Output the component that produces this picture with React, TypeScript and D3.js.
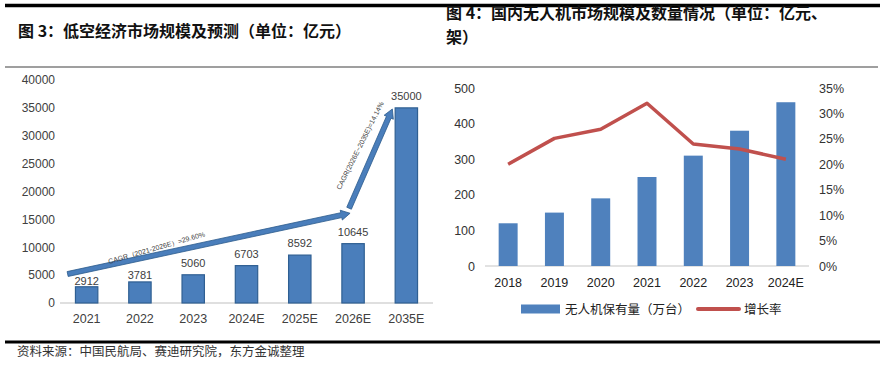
import React from "react";
import * as d3 from "d3";

// 图3 低空经济市场规模（亿元）
const marketYears = ["2021", "2022", "2023", "2024E", "2025E", "2026E", "2035E"];
const marketSize = [2912, 3781, 5060, 6703, 8592, 10645, 35000];
const marketTicks = [0, 5000, 10000, 15000, 20000, 25000, 30000, 35000, 40000];

// CAGR arrows: [category, value] for start and end
const cagrNotes = [
  { from: ["2021", 5200], to: ["2026E", 16100], label: "CAGR（2021-2026E）=29.60%" },
  { from: ["2026E", 17000], to: ["2035E", 34800], label: "CAGR(2026E~2035E)=14.14%" },
];

// 图4 国内无人机
const droneYears = ["2018", "2019", "2020", "2021", "2022", "2023", "2024E"];
const droneStock = [120, 150, 190, 250, 310, 380, 460];
const droneGrowth = [20.0, 25.1, 26.9, 32.0, 24.0, 23.0, 21.0];
const stockTicks = [0, 100, 200, 300, 400, 500];
const growthTicks = [0, 5, 10, 15, 20, 25, 30, 35];

const CJK = "'Noto Sans CJK SC', sans-serif";
const NUM = "'Liberation Sans', Arial, sans-serif";
const NARROW = "'Liberation Sans Narrow', 'Liberation Sans', sans-serif";

function blockArrow(x0: number, y0: number, x1: number, y1: number) {
  const shaft = 5, headLen = 9, headW = 10;
  const dx = x1 - x0, dy = y1 - y0;
  const L = Math.hypot(dx, dy);
  const ux = dx / L, uy = dy / L;
  const nx = -uy, ny = ux;
  const bx = x1 - ux * headLen, by = y1 - uy * headLen;
  const pts = [
    [x0 + nx * shaft / 2, y0 + ny * shaft / 2],
    [bx + nx * shaft / 2, by + ny * shaft / 2],
    [bx + nx * headW / 2, by + ny * headW / 2],
    [x1, y1],
    [bx - nx * headW / 2, by - ny * headW / 2],
    [bx - nx * shaft / 2, by - ny * shaft / 2],
    [x0 - nx * shaft / 2, y0 - ny * shaft / 2],
  ];
  return "M" + pts.map((p) => p.join(",")).join("L") + "Z";
}

const MarketChart = () => {
  const x = d3.scaleBand().domain(marketYears).range([60, 433]);
  const y = d3.scaleLinear().domain([0, 40000]).range([303, 80]);
  const barW = x.bandwidth() * 0.42;
  const cx = (c: string) => (x(c) ?? 0) + x.bandwidth() / 2;

  const arrowPts = [
    { x0: cx("2021") - 19, y0: y(5200), x1: cx("2026E") - 3, y1: y(16100), t: 0.32, off: -7 },
    { x0: cx("2026E") - 4, y0: y(17000), x1: cx("2035E") - 14, y1: y(34800), t: 0.57, off: -15 },
  ];

  return (
    <g>
      {marketTicks.map((t) => (
        <text key={t} x={55} y={y(t)} dy="0.36em" textAnchor="end" fontFamily={NUM} fontSize={12} fill="#404040">
          {t}
        </text>
      ))}
      <line x1={60} x2={433} y1={y(0)} y2={y(0)} stroke="#bfbfbf" strokeWidth={1} />
      {marketYears.map((c, i) => {
        const v = marketSize[i];
        const top = y(v);
        const gap = c === "2021" ? 6 : c === "2022" ? 7 : 12;
        return (
          <g key={c}>
            <rect x={cx(c) - barW / 2} y={top} width={barW} height={y(0) - top} fill="#4A7EBB" stroke="#2F5F92" strokeWidth={1.2} />
            <text x={cx(c)} y={top - gap} dy="0.36em" textAnchor="middle" fontFamily={NARROW} fontSize={11} fill="#404040">
              {v}
            </text>
            <text x={cx(c)} y={318} dy="0.36em" textAnchor="middle" fontFamily={NARROW} fontSize={12.5} fill="#404040">
              {c}
            </text>
          </g>
        );
      })}
      {cagrNotes.map((n, i) => {
        const a = arrowPts[i];
        const ang = (Math.atan2(a.y1 - a.y0, a.x1 - a.x0) * 180) / Math.PI;
        const L = Math.hypot(a.x1 - a.x0, a.y1 - a.y0);
        const ux = (a.x1 - a.x0) / L, uy = (a.y1 - a.y0) / L;
        const tx = a.x0 + (a.x1 - a.x0) * a.t + uy * a.off * -1;
        const ty = a.y0 + (a.y1 - a.y0) * a.t + -ux * a.off * -1;
        return (
          <g key={i}>
            <path d={blockArrow(a.x0, a.y0, a.x1, a.y1)} fill="#4A7EBB" stroke="#2B5A8C" strokeWidth={0.8} />
            <text
              transform={`translate(${tx},${ty}) rotate(${ang - (i === 0 ? 4 : -3)})`}
              textAnchor="middle"
              dy="0.35em"
              fontFamily={NARROW}
              fontSize={7}
              fill="#404040"
            >
              {n.label}
            </text>
          </g>
        );
      })}
    </g>
  );
};

const DroneChart = () => {
  const x = d3.scaleBand().domain(droneYears).range([485, 809]);
  const y = d3.scaleLinear().domain([0, 500]).range([266, 88]);
  const y2 = d3.scaleLinear().domain([0, 35]).range([266, 88]);
  const barW = x.bandwidth() * 0.41;
  const cx = (c: string) => (x(c) ?? 0) + x.bandwidth() / 2;
  const line = d3
    .line<number>()
    .x((_, i) => cx(droneYears[i]))
    .y((d) => y2(d));

  return (
    <g>
      {stockTicks.map((t) => (
        <text key={t} x={475} y={y(t)} dy="0.36em" textAnchor="end" fontFamily={NUM} fontSize={12.5} fill="#333">
          {t}
        </text>
      ))}
      {growthTicks.map((t) => (
        <text key={t} x={819} y={y2(t)} dy="0.36em" textAnchor="start" fontFamily={NUM} fontSize={12.5} fill="#333">
          {t}%
        </text>
      ))}
      <line x1={485} x2={809} y1={y(0)} y2={y(0)} stroke="#d9d9d9" strokeWidth={1.5} />
      {droneYears.map((c, i) => (
        <g key={c}>
          <rect x={cx(c) - barW / 2} y={y(droneStock[i])} width={barW} height={y(0) - y(droneStock[i])} fill="#4F81BD" />
          <text x={cx(c)} y={282} dy="0.36em" textAnchor="middle" fontFamily={NUM} fontSize={12.5} fill="#222">
            {c}
          </text>
        </g>
      ))}
      <path d={line(droneGrowth) ?? ""} fill="none" stroke="#C0504D" strokeWidth={3.5} strokeLinejoin="round" />
      <rect x={521} y={304.5} width={39} height={9} fill="#4F81BD" />
      <text x={565} y={313.5} fontFamily={CJK} fontSize={12.5} fill="#222">
        无人机保有量（万台）
      </text>
      <line x1={698} x2={739} y1={309} y2={309} stroke="#C0504D" strokeWidth={4} strokeLinecap="round" />
      <text x={744} y={313.5} fontFamily={CJK} fontSize={12.5} fill="#222">
        增长率
      </text>
    </g>
  );
};

export default function App() {
  return (
    <svg width={884} height={365} style={{ position: "absolute", left: 0, top: 0, background: "#fff" }}>
      <rect width={884} height={365} fill="#fff" />
      <line x1={5} x2={880} y1={5.5} y2={5.5} stroke="#000" strokeWidth={3.5} />
      <text x={18} y={37} fontFamily={CJK} fontWeight="bold" fontSize={16} fill="#111">
        图 3：低空经济市场规模及预测（单位：亿元）
      </text>
      <text x={446} y={19} fontFamily={CJK} fontWeight="bold" fontSize={16} fill="#111">
        图 4：国内无人机市场规模及数量情况（单位：亿元、
      </text>
      <text x={446} y={43} fontFamily={CJK} fontWeight="bold" fontSize={16} fill="#111">
        架）
      </text>
      <line x1={5} x2={878} y1={67} y2={67} stroke="#7f7f7f" strokeWidth={1.5} />
      <MarketChart />
      <DroneChart />
      <line x1={5} x2={880} y1={342} y2={342} stroke="#000" strokeWidth={3} />
      <text x={17} y={356} fontFamily={CJK} fontSize={12.5} fill="#333">
        资料来源：中国民航局、赛迪研究院，东方金诚整理
      </text>
    </svg>
  );
}
